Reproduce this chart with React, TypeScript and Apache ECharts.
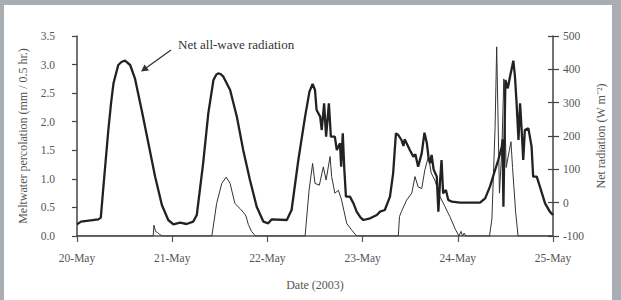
import React, { useEffect, useRef } from "react";
import * as echarts from "echarts";

// Hours since 20-May 00:00 (2003)
const dayLabels = ["20-May", "21-May", "22-May", "23-May", "24-May", "25-May"];
const percTicks = [0, 0.5, 1, 1.5, 2, 2.5, 3, 3.5];
const radTicks = [-100, 0, 100, 200, 300, 400, 500];

// Net all-wave radiation (W m^-2)
const radHours = [
  0, 1, 5.4, 6, 6.6, 7.9, 8.6, 9.2, 10.4, 11.2, 12.1, 13.4, 14.6, 16.3, 18, 19.7, 21.4, 23, 24.3,
  26, 27.6, 29.3, 30.2, 31.8, 33.1, 34.4, 35.1, 35.6, 36.2, 36.9, 38.6, 40.3, 41.9, 43.6, 45.3, 47, 48.2,
  49.1, 52.9, 54.1, 55.8, 57.5, 58.6, 59.4, 60, 60.4, 61.3, 61.7, 62.3, 62.8, 63.5, 64, 65,
  65.5, 66.3, 66.6, 67, 67.4, 67.8, 68.8, 69.7, 70.5, 71.5, 72.2, 73.9, 75.6, 76.4, 77.6,
  78.9, 79.7, 80.4, 81, 81.8, 82.3, 82.6, 83.1, 83.9, 84.8, 85.3, 86, 86.9, 87.6, 88.2, 88.6,
  89, 89.4, 89.9, 90.7, 91.1, 91.5, 91.9, 92.3, 93, 93.6, 94.5, 96.6, 101.6,
  102.9, 104.1, 105.4, 106.2, 107.1, 107.3, 107.5, 108, 108.6, 109.2, 110, 110.4, 110.8,
  111.3, 111.7, 112.1, 112.5, 112.9, 113.8, 114.6, 115, 115.9, 116.7, 118, 119.2, 120,
];
const radValues = [
  -65, -57, -50, -45, 40, 218, 300, 358, 413, 422, 426, 413, 373, 278, 178, 78, -7, -52, -65,
  -60, -64, -57, -37, 118, 268, 368, 384, 388, 386, 378, 338, 258, 158, 68, -12, -57, -62,
  -50, -52, -22, 128, 258, 333, 356, 338, 278, 258, 218, 298, 198, 298, 198, 198,
  158, 178, 108, 208, 98, 18, 18, -2, -27, -45, -52, -47, -37, -27, -22,
  18, 88, 208, 203, 188, 170, 190, 178, 158, 138, 145, 108, 148, 210, 178, 138,
  118, 143, 100, 78, -27, 60, 128, 28, 38, 8, 3, 0, 0,
  13, 48, 98, 128, 168, 190, -12, 368, 343, 380, 426, 380, 303,
  188, 298, 218, 128, 218, 223, 168, 78, 78, 48, -2, -27, -37,
];

// Meltwater percolation (mm / 0.5 hr)
const percHours = [
  0, 19.2, 19.4, 19.8, 20.3, 20.8, 21.5,
  34, 35.2, 36.5, 37.6, 38.6, 39.8, 41.1, 42.1, 42.6, 43.2, 44, 45,
  57.5, 58.5, 59.4, 60, 61.1, 62.1, 62.8, 63.8, 64.2, 65, 65.9, 66.7, 68, 69.3, 70.5,
  81, 81.3, 81.8, 83.1, 84.4, 85.2, 86, 86.9, 87.7, 88.6, 89.3, 90.2, 91.5, 92.8, 94, 95.3, 96.3,
  96.8, 97.2, 97.6, 98,
  104, 104.6, 105.4, 105.8, 106.5, 107.1, 107.6, 108.2, 109, 109.4, 109.8, 110.6, 111.2, 120,
];
const percValues = [
  0, 0, 0.19, 0.08, 0.06, 0.03, 0,
  0, 0.57, 0.92, 1.03, 0.92, 0.57, 0.48, 0.4, 0.35, 0.2, 0.08, 0,
  0, 0.8, 1.27, 0.92, 0.89, 1.21, 0.98, 1.39, 1.04, 0.75, 0.8, 0.63, 0.22, 0.1, 0,
  0, 0.34, 0.43, 0.63, 0.75, 1.04, 0.86, 0.83, 1.16, 1.39, 1.1, 0.98, 0.69, 0.51, 0.34, 0.13, 0,
  0.08, 0, 0.05, 0,
  0, 0.3, 1.9, 3.31, 0.75, 1.5, 2.75, 1.2, 1.5, 1.65, 1.2, 0.4, 0, 0,
];

const FONT = "'Liberation Serif', 'Times New Roman', serif";
const LABEL = "#555";

export default function App() {
  const ref = useRef<HTMLDivElement>(null);
  useEffect(() => {
    document.body.style.margin = "0";
    const chart = echarts.init(ref.current!, null, { renderer: "svg" });
    const radData = radHours.map((h, i) => [h, radValues[i]]);
    const percData = percHours.map((h, i) => [h, percValues[i]]);
    chart.setOption({
      animation: false,
      grid: { left: 77, right: 68, top: 36, bottom: 64, containLabel: false },
      xAxis: {
        type: "value",
        min: 0,
        max: 120,
        interval: 24,
        name: "Date (2003)",
        nameLocation: "middle",
        nameGap: 43,
        nameTextStyle: { fontFamily: FONT, fontSize: 12, color: LABEL },
        axisLine: { lineStyle: { color: "#555", width: 1.5 } },
        axisTick: { show: true, length: 6, lineStyle: { color: "#555", width: 1.2 } },
        axisLabel: {
          margin: 16,
          fontFamily: FONT,
          fontSize: 11.5,
          color: LABEL,
          formatter: (v: number) => dayLabels[Math.round(v / 24)] ?? "",
        },
        splitLine: { show: false },
      },
      yAxis: [
        {
          type: "value",
          min: 0,
          max: 3.5,
          interval: 0.5,
          position: "left",
          name: "Meltwater percolation (mm / 0.5 hr.)",
          nameLocation: "middle",
          nameRotate: 90,
          nameGap: 48,
          nameTextStyle: { fontFamily: FONT, fontSize: 12, color: LABEL },
          axisLine: { show: true, lineStyle: { color: "#444", width: 1.5 } },
          axisTick: { show: true, length: 5, lineStyle: { color: "#444", width: 1.2 } },
          axisLabel: {
            margin: 22,
            fontFamily: FONT,
            fontSize: 11.5,
            color: LABEL,
            formatter: (v: number) => (percTicks.includes(v) ? v.toFixed(1) : ""),
          },
          splitLine: { show: false },
        },
        {
          type: "value",
          min: -100,
          max: 500,
          interval: 100,
          position: "right",
          name: "Net radiation (W m⁻²)",
          nameLocation: "middle",
          nameRotate: 90,
          nameGap: 38,
          nameTextStyle: { fontFamily: FONT, fontSize: 12, color: LABEL },
          axisLine: { show: true, lineStyle: { color: "#444", width: 1.5 } },
          axisTick: { show: true, length: 6, lineStyle: { color: "#444", width: 1.2 } },
          axisLabel: {
            margin: 10,
            fontFamily: FONT,
            fontSize: 11.5,
            color: LABEL,
            formatter: (v: number) => (radTicks.includes(v) ? String(v) : ""),
          },
          splitLine: { show: false },
        },
        {
          type: "value",
          min: -100,
          max: 500,
          interval: 100,
          position: "right",
          axisLine: { show: false },
          axisTick: { show: true, inside: true, length: 5, lineStyle: { color: "#444", width: 1.2 } },
          axisLabel: { show: false },
          splitLine: { show: false },
        },
      ],
      graphic: [
        {
          type: "text",
          left: 178,
          top: 38,
          style: { text: "Net all-wave radiation", font: `13px ${FONT}`, fill: "#333" },
        },
        {
          type: "line",
          shape: { x1: 171, y1: 50, x2: 146, y2: 68 },
          style: { stroke: "#333", lineWidth: 1.3 },
        },
        {
          type: "polygon",
          shape: { points: [[141, 71.5], [144.5, 64.5], [149, 70.5]] },
          style: { fill: "#333" },
        },
      ],
      series: [
        {
          type: "line",
          yAxisIndex: 1,
          data: radData,
          symbol: "none",
          lineStyle: { color: "#222", width: 2.3 },
          z: 3,
        },
        {
          type: "line",
          yAxisIndex: 0,
          data: percData,
          symbol: "none",
          lineStyle: { color: "#333", width: 1 },
          z: 2,
        },
      ],
    });
    return () => chart.dispose();
  }, []);
  return (
    <div style={{ position: "relative", width: 621, height: 300, background: "#a9aeb3" }}>
      <div style={{ position: "absolute", left: 4, top: 5, width: 608, height: 295, background: "#fff" }} />
      <div ref={ref} style={{ position: "absolute", left: 0, top: 0, width: 621, height: 300 }} />
    </div>
  );
}
